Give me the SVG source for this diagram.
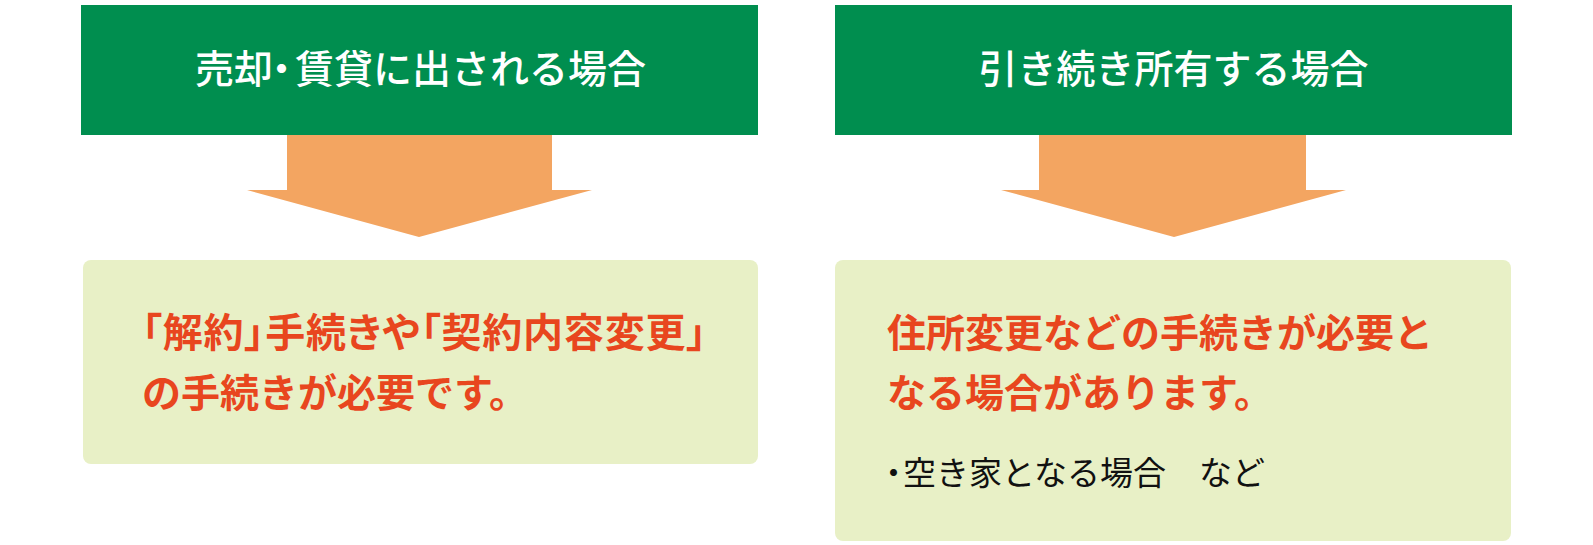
<svg xmlns="http://www.w3.org/2000/svg" width="1593" height="545" viewBox="0 0 1593 545">
<style>
.hdr{fill:#008E4F}
.arrow{fill:#F3A561}
.body{fill:#E8F0C6}
.htxt{font-family:"Noto Sans CJK JP","Noto Sans",sans-serif;font-size:39px;font-weight:500;fill:#FFFFFF;text-anchor:middle}
.btxt{font-family:"Noto Sans CJK JP","Noto Sans",sans-serif;font-size:39px;font-weight:bold;fill:#E8461E}
.ntxt{font-family:"Noto Sans CJK JP","Noto Sans",sans-serif;font-size:33px;fill:#111111}
.palt{font-feature-settings:"palt"}
</style>
<rect width="1593" height="545" fill="#FFFFFF"/>
<g id="connectors">
<polygon class="arrow" points="287,135 552,135 552,190 592,190 419,237 247,190 287,190"/>
<polygon class="arrow" points="1039,135 1306,135 1306,190 1346,190 1174,237 1001,190 1039,190"/>
</g>
<g id="header-left">
<rect class="hdr" x="81" y="5" width="677" height="130"/>
<text class="htxt" x="195 234 262 295" y="83" style="text-anchor:start">売却・賃貸に出される場合</text>
</g>
<g id="header-right">
<rect class="hdr" x="835" y="5" width="677" height="130"/>
<text class="htxt" x="1173.5" y="83">引き続き所有する場合</text>
</g>
<g id="body-left">
<rect class="body" x="83" y="260" width="675" height="204" rx="8"/>
<text class="btxt palt" x="142" y="347" style="font-size:40px;letter-spacing:0.8px">「解約」手続きや「契約内容変更」</text>
<text class="btxt" x="142" y="407">の手続きが必要です。</text>
</g>
<g id="body-right">
<rect class="body" x="835" y="260" width="676" height="281" rx="8"/>
<text class="btxt" x="887" y="347">住所変更などの手続きが必要と</text>
<text class="btxt" x="887" y="407">なる場合があります。</text>
<text class="ntxt" x="877 903" y="485">・空き家となる場合　など</text>
</g>
</svg>
